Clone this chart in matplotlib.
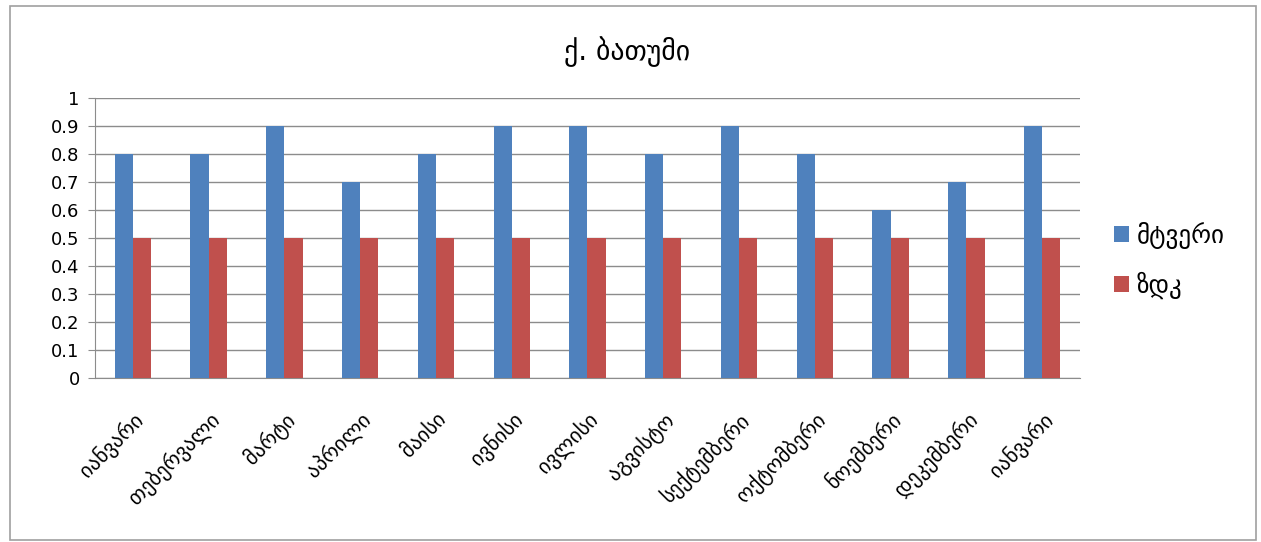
import matplotlib
matplotlib.use("Agg")
import matplotlib.pyplot as plt
import numpy as np
from matplotlib.patches import Rectangle

plt.rcParams['font.family'] = ['DejaVu Sans']

months = ["იანვარი", "თებერვალი", "მარტი", "აპრილი", "მაისი", "ივნისი", "ივლისი",
          "აგვისტო", "სექტემბერი", "ოქტომბერი", "ნოემბერი", "დეკემბერი", "იანვარი"]
dust = [0.8, 0.8, 0.9, 0.7, 0.8, 0.9, 0.9, 0.8, 0.9, 0.8, 0.6, 0.7, 0.9]
limit = [0.5] * 13
series_names = ["მტვერი", "ზდკ"]
title = "ქ. ბათუმი"

fig = plt.figure(figsize=(12.61, 5.42), dpi=100)
fig.patches.append(Rectangle((0.008, 0.004), 0.988, 0.985, transform=fig.transFigure,
                             fill=False, edgecolor="#a0a0a0", linewidth=1.2))
ax = fig.add_axes([0.0753, 0.3026, 0.7812, 0.5166])

x = np.arange(len(months))
w = 0.24
ax.bar(x - w / 2, dust, w, color="#4F81BD", label=series_names[0], zorder=3)
ax.bar(x + w / 2, limit, w, color="#C0504D", label=series_names[1], zorder=3)

ax.set_xlim(-0.5, len(months) - 0.5)
ax.set_ylim(0, 1)
ax.set_yticks(np.arange(0, 1.01, 0.1))
ax.set_yticklabels(["0", "0.1", "0.2", "0.3", "0.4", "0.5", "0.6", "0.7", "0.8", "0.9", "1"], fontsize=13)
ax.yaxis.grid(True, color="#8c8c8c", linewidth=1, zorder=0)
ax.set_axisbelow(True)
ax.set_xticks(x)
ax.set_xticklabels(months, rotation=45, ha="right", rotation_mode="anchor", fontsize=15)
for s in ["top", "right"]:
    ax.spines[s].set_visible(False)
ax.spines["left"].set_color("#8c8c8c")
ax.spines["bottom"].set_color("#8c8c8c")
ax.tick_params(axis="y", length=5, color="#8c8c8c", pad=6)
ax.tick_params(axis="x", length=0, pad=22)

fig.text(0.497, 0.905, title, ha="center", va="center", fontsize=20)
ax.legend(loc="center left", bbox_to_anchor=(1.012, 0.42), frameon=False, fontsize=18,
          handlelength=0.6, handleheight=0.6, handletextpad=0.3, labelspacing=0.9)

fig.savefig("out.png", dpi=100)
